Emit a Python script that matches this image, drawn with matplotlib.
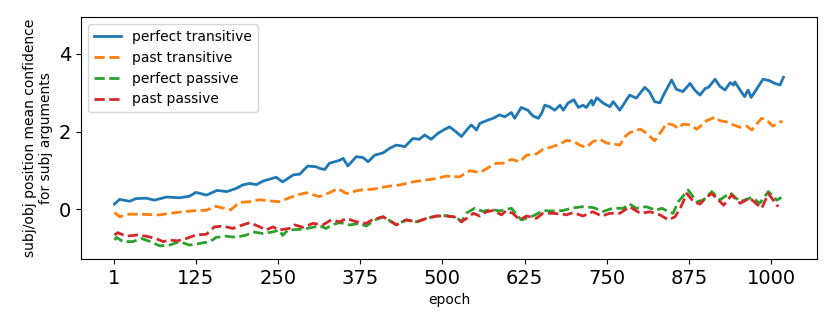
import matplotlib
matplotlib.use("Agg")
import matplotlib.pyplot as plt

# perfect transitive
perf_tr_ep = [1, 9, 24, 34, 49, 62, 80, 100, 115, 125, 141, 157, 172, 186, 196, 207, 217, 227,
              241, 247, 257, 273, 283, 295, 308, 313, 321, 328, 344, 349, 356, 369, 379, 387,
              397, 410, 420, 430, 443, 455, 465, 473, 483, 493, 504, 511, 521, 529, 539, 544,
              552, 557, 567, 577, 587, 595, 605, 610, 620, 630, 638, 646, 651, 656, 663, 671,
              679, 684, 691, 700, 707, 714, 719, 727, 729, 735, 745, 755, 760, 770, 780, 785,
              795, 808, 815, 823, 831, 838, 849, 856, 866, 877, 884, 892, 900, 905, 915, 922,
              930, 938, 943, 945, 953, 960, 965, 970, 978, 988, 998, 1006, 1014, 1019]
perf_tr = [0.13, 0.25, 0.20, 0.27, 0.28, 0.23, 0.31, 0.29, 0.33, 0.43, 0.36, 0.48, 0.45, 0.53,
           0.62, 0.66, 0.63, 0.72, 0.79, 0.82, 0.70, 0.88, 0.90, 1.11, 1.09, 1.05, 1.02, 1.18,
           1.26, 1.31, 1.11, 1.35, 1.33, 1.22, 1.39, 1.45, 1.57, 1.65, 1.61, 1.82, 1.80, 1.91,
           1.80, 1.95, 2.06, 2.12, 1.99, 1.87, 2.08, 2.17, 2.04, 2.21, 2.28, 2.34, 2.43, 2.38,
           2.49, 2.34, 2.62, 2.55, 2.40, 2.34, 2.47, 2.68, 2.64, 2.55, 2.68, 2.55, 2.73, 2.82,
           2.62, 2.68, 2.62, 2.81, 2.68, 2.87, 2.73, 2.64, 2.77, 2.55, 2.81, 2.94, 2.86, 3.14,
           3.03, 2.77, 2.74, 2.99, 3.33, 3.09, 3.03, 3.24, 3.07, 2.94, 3.11, 3.14, 3.35, 3.17,
           3.07, 3.26, 3.20, 3.28, 3.07, 2.90, 3.07, 2.88, 3.09, 3.35, 3.31, 3.24, 3.20, 3.40]

# past transitive
past_tr_ep = [1, 9, 24, 49, 70, 85, 105, 125, 141, 155, 178, 191, 207, 222, 237, 252, 278, 293,
              313, 328, 341, 354, 374, 394, 415, 435, 455, 476, 491, 506, 526, 542, 557, 572,
              582, 592, 605, 618, 628, 643, 653, 668, 679, 689, 699, 709, 719, 729, 740, 750,
              760, 770, 778, 785, 801, 808, 816, 823, 831, 841, 851, 859, 866, 877, 887, 895,
              902, 915, 922, 932, 943, 953, 963, 971, 978, 986, 993, 1003, 1014, 1018]
past_tr = [-0.09, -0.20, -0.13, -0.14, -0.15, -0.11, -0.07, -0.04, -0.03, 0.07, -0.02, 0.17,
           0.19, 0.24, 0.21, 0.19, 0.36, 0.42, 0.32, 0.42, 0.53, 0.40, 0.49, 0.51, 0.58, 0.62,
           0.70, 0.75, 0.79, 0.85, 0.83, 0.99, 0.94, 1.09, 1.18, 1.18, 1.28, 1.22, 1.39, 1.42,
           1.54, 1.61, 1.68, 1.77, 1.75, 1.65, 1.59, 1.74, 1.80, 1.70, 1.68, 1.65, 1.87, 1.97,
           2.06, 1.99, 1.87, 1.76, 1.95, 2.21, 2.17, 2.08, 2.19, 2.17, 2.06, 2.17, 2.28, 2.37,
           2.28, 2.25, 2.17, 2.11, 2.14, 2.04, 2.19, 2.34, 2.30, 2.14, 2.25, 2.25]

# perfect passive
perf_pa_ep = [1, 4, 14, 29, 42, 54, 70, 85, 100, 115, 130, 146, 156, 171, 186, 202, 212, 227,
              242, 252, 257, 265, 288, 303, 313, 323, 333, 344, 359, 374, 384, 399, 410, 430,
              445, 461, 476, 491, 506, 521, 529, 537, 549, 562, 574, 587, 605, 620, 638, 653,
              668, 683, 699, 714, 729, 745, 759, 775, 785, 795, 810, 825, 834, 842, 851, 859,
              874, 887, 897, 910, 922, 938, 953, 971, 983, 996, 1009, 1016]
perf_pa = [-0.80, -0.73, -0.84, -0.84, -0.76, -0.83, -0.95, -0.93, -0.84, -0.93, -0.89, -0.84,
           -0.73, -0.70, -0.73, -0.67, -0.59, -0.63, -0.59, -0.54, -0.68, -0.54, -0.52, -0.47,
           -0.43, -0.50, -0.40, -0.35, -0.41, -0.37, -0.44, -0.27, -0.20, -0.40, -0.28, -0.33,
           -0.24, -0.18, -0.17, -0.21, -0.33, -0.10, 0.02, -0.06, -0.01, -0.05, 0.02, -0.28,
           -0.18, -0.04, -0.05, -0.04, 0.03, 0.06, 0.04, -0.06, 0.02, 0.02, 0.13, 0.02, 0.06,
           -0.03, 0.02, -0.05, -0.11, 0.19, 0.49, 0.19, 0.23, 0.45, 0.23, 0.42, 0.19, 0.30,
           0.15, 0.45, 0.23, 0.30]

# past passive
past_pa_ep = [1, 6, 19, 36, 49, 64, 75, 85, 97, 110, 125, 141, 153, 166, 181, 196, 207, 222,
              232, 242, 252, 267, 275, 288, 303, 318, 331, 344, 354, 369, 384, 394, 410, 430,
              445, 461, 476, 491, 506, 521, 529, 537, 547, 557, 567, 577, 590, 597, 607, 618,
              628, 643, 653, 668, 683, 689, 699, 714, 729, 742, 755, 770, 785, 801, 816, 831,
              844, 854, 862, 872, 882, 892, 903, 910, 928, 940, 953, 968, 986, 996, 1011]
past_pa = [-0.67, -0.61, -0.70, -0.67, -0.70, -0.76, -0.84, -0.80, -0.82, -0.76, -0.67, -0.65,
           -0.46, -0.44, -0.50, -0.41, -0.35, -0.46, -0.54, -0.46, -0.54, -0.50, -0.41, -0.47,
           -0.37, -0.41, -0.28, -0.33, -0.24, -0.33, -0.37, -0.27, -0.20, -0.41, -0.28, -0.33,
           -0.24, -0.18, -0.18, -0.21, -0.33, -0.24, -0.11, -0.18, -0.07, -0.04, -0.15, -0.04,
           -0.11, -0.28, -0.18, -0.24, -0.11, -0.11, -0.13, -0.15, -0.09, -0.18, -0.07, -0.18,
           -0.11, -0.11, 0.06, -0.11, -0.07, -0.15, -0.28, -0.20, 0.02, 0.40, 0.19, 0.13, 0.32,
           0.40, 0.10, 0.36, 0.15, 0.28, 0.02, 0.40, 0.06]

xticks = [1, 125, 250, 375, 500, 625, 750, 875, 1000]

fig = plt.figure(figsize=(8.31, 3.3), dpi=100)
ax = fig.add_axes([0.0975, 0.215, 0.8855, 0.733])

ax.plot(perf_tr_ep, perf_tr, color="tab:blue", lw=2, label="perfect transitive")
ax.plot(past_tr_ep, past_tr, color="tab:orange", lw=2, ls="--", label="past transitive")
ax.plot(perf_pa_ep, perf_pa, color="tab:green", lw=2, ls="--", label="perfect passive")
ax.plot(past_pa_ep, past_pa, color="tab:red", lw=2, ls="--", label="past passive")

ax.set_ylim(-1.29, 4.95)
ax.set_xticks(xticks)
ax.set_yticks([0, 2, 4])
ax.tick_params(labelsize=14)
ax.set_xlabel("epoch", fontsize=10)
ax.set_ylabel("subj/obj position mean confidence\nfor subj arguments", fontsize=10)
ax.legend(loc="upper left", fontsize=10)

fig.savefig("out.png", dpi=100)
